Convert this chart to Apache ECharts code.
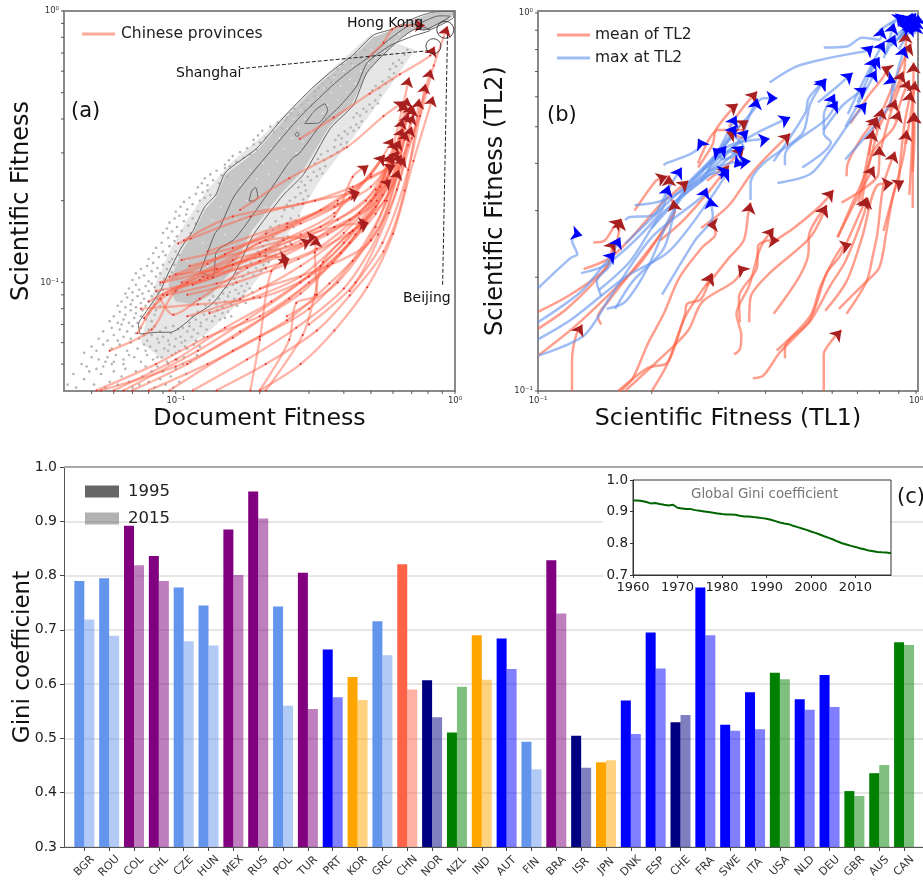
<!DOCTYPE html>
<html>
<head>
<meta charset="utf-8">
<style>html,body{margin:0;padding:0;background:#fff}#c{width:923px;height:880px}</style>
<script src="https://cdn.jsdelivr.net/npm/echarts@6/dist/echarts.min.js"></script>
</head>
<body>
<div id="c"></div>
<script>
// ---------- Panel (c): Gini bars ----------
const countries = ['BGR','ROU','COL','CHL','CZE','HUN','MEX','RUS','POL','TUR','PRT','KOR','GRC','CHN','NOR','NZL','IND','AUT','FIN','BRA','ISR','JPN','DNK','ESP','CHE','FRA','SWE','ITA','USA','NLD','DEU','GBR','AUS','CAN'];
const gini1995 = [.790,.795,.892,.836,.778,.745,.885,.955,.743,.805,.664,.613,.716,.821,.607,.511,.690,.684,.494,.828,.505,.456,.570,.695,.530,.778,.525,.585,.621,.572,.617,.403,.436,.677];
const gini2015 = [.719,.689,.819,.790,.679,.671,.801,.905,.560,.554,.576,.571,.653,.590,.539,.595,.608,.628,.443,.730,.446,.460,.508,.629,.543,.690,.514,.517,.609,.553,.558,.394,.451,.672];
const barColors = ['cornflowerblue','cornflowerblue','purple','purple','cornflowerblue','cornflowerblue','purple','purple','cornflowerblue','purple','blue','orange','cornflowerblue','tomato','navy','green','orange','blue','cornflowerblue','purple','navy','orange','blue','blue','navy','blue','blue','blue','green','blue','blue','green','green','green'];
const globalYears = [1960,1961,1962,1963,1964,1965,1966,1967,1968,1969,1970,1971,1972,1973,1974,1975,1976,1977,1978,1979,1980,1981,1982,1983,1984,1985,1986,1987,1988,1989,1990,1991,1992,1993,1994,1995,1996,1997,1998,1999,2000,2001,2002,2003,2004,2005,2006,2007,2008,2009,2010,2011,2012,2013,2014,2015,2016,2017,2018];
const globalGini = [.9356,.9356,.9335,.9303,.9261,.9271,.924,.9218,.9197,.9218,.9123,.9102,.9081,.9081,.9049,.9028,.9007,.8986,.8965,.8944,.8923,.8912,.8912,.8901,.887,.8849,.8849,.8828,.8817,.8796,.8775,.8743,.8701,.8658,.8627,.8606,.8553,.8511,.8468,.8426,.8373,.8331,.8278,.8225,.8173,.812,.8056,.8004,.7961,.7919,.7887,.7845,.7813,.7771,.775,.7729,.7718,.7708,.7687];

// ---------- Panel (a): provinces ----------
const provinces = [
[[.49,.675],[.555,.765],[.595,.855],[.67,.885],[.78,.885]],
[[.278,.338],[.368,.405],[.495,.496],[.635,.585],[.815,.685],[.845,.74]],
[[.17,.185],[.255,.242],[.41,.315],[.555,.41],[.66,.465]],
[[.11,.09],[.165,.1],[.275,.122],[.43,.155],[.52,.19],[.61,.25],[.68,.32],[.75,.41],[.79,.5],[.84,.63],[.94,.88]],
[[.054,.04],[.1,.049],[.16,.0625],[.255,.087],[.365,.118],[.465,.161],[.585,.235],[.66,.335],[.71,.415]],
[[.07,.04],[.11,.05],[.17,.066],[.28,.091],[.39,.128],[.52,.179],[.62,.25],[.7,.375]],
[[.095,.04],[.16,.056],[.25,.0725],[.355,.099],[.5,.143],[.62,.22],[.71,.445]],
[[.14,.04],[.21,.05],[.32,.0665],[.42,.0895],[.555,.13],[.66,.218],[.745,.475]],
[[.2,.04],[.28,.05],[.37,.0665],[.485,.096],[.6,.151],[.71,.28],[.835,.485]],
[[.185,.04],[.2,.0615],[.22,.11],[.255,.122]],
[[.2,.04],[.255,.0615],[.27,.084],[.32,.09],[.315,.129],[.32,.147]],
[[.21,.04],[.285,.064],[.315,.09],[.337,.119],[.43,.155],[.49,.166]],
[[.077,.074],[.093,.09],[.16,.121],[.28,.139],[.42,.17],[.59,.24]],
[[.073,.065],[.09,.09],[.122,.102],[.21,.132],[.37,.16],[.49,.166]],
[[.058,.056],[.082,.067],[.1,.093],[.136,.104],[.243,.143],[.37,.18],[.56,.295]],
[[.088,.087],[.098,.076],[.122,.087],[.18,.113],[.305,.143]],
[[.085,.093],[.13,.104],[.21,.143],[.32,.147]],
[[.1,.107],[.14,.112],[.21,.125],[.255,.122]],
[[.102,.139],[.113,.145],[.185,.175],[.315,.2],[.455,.215]],
[[.107,.143],[.16,.175],[.285,.195],[.43,.225],[.61,.27]],
[[.132,.077],[.19,.088],[.28,.105],[.42,.152],[.56,.2],[.66,.29]],
[[.093,.09],[.14,.099],[.21,.113],[.32,.133],[.455,.18],[.645,.295]],
[[.088,.1],[.13,.117],[.21,.151],[.37,.19],[.5,.225],[.63,.305]],
[[.105,.121],[.16,.134],[.28,.165],[.42,.205],[.56,.295]],
[[.125,.105],[.245,.126],[.37,.16],[.525,.2],[.635,.335]],
[[.11,.075],[.17,.087],[.28,.115],[.4,.152],[.54,.225],[.685,.57]],
[[.112,.115],[.28,.15],[.37,.175],[.43,.245],[.49,.27]],
[[.13,.13],[.25,.165],[.38,.195],[.455,.215]],
[[.2,.095],[.35,.115],[.5,.143],[.62,.25],[.675,.48]],
[[.25,.075],[.38,.1],[.52,.16],[.63,.3],[.66,.46]],
[[.3,.07],[.44,.1],[.58,.18],[.7,.34],[.82,.61]],
[[.42,.093],[.55,.14],[.68,.26],[.785,.54]],
[[.115,.098],[.2,.12],[.35,.15],[.5,.2],[.595,.295]],
[[.105,.1],[.2,.14],[.33,.185],[.5,.245],[.61,.27]],
[[.052,.04],[.085,.05],[.13,.063],[.2,.075],[.3,.1],[.44,.15],[.57,.24],[.68,.42]],
[[.06,.04],[.1,.052],[.15,.068],[.22,.085],[.33,.115],[.47,.17],[.6,.28],[.7,.45]],
[[.065,.04],[.12,.056],[.18,.073],[.28,.1],[.4,.14],[.52,.21],[.65,.37]],
[[.08,.04],[.13,.05],[.2,.063],[.3,.08],[.43,.12],[.57,.2],[.67,.36]],
[[.115,.04],[.18,.052],[.27,.068],[.4,.095],[.53,.15],[.63,.26]],
[[.09,.1],[.16,.116],[.26,.138],[.38,.17],[.52,.22],[.6,.3]],
[[.08,.085],[.11,.1],[.2,.127],[.33,.16],[.48,.2],[.62,.33]],
[[.095,.105],[.15,.127],[.25,.16],[.38,.2],[.5,.25],[.6,.34]],
[[.075,.08],[.12,.083],[.2,.088],[.3,.105],[.42,.14],[.55,.21],[.65,.4]]
];
const contourOuter = [[.0745,.0645],[.0735,.07],[.079,.079],[.088,.093],[.094,.108],[.105,.135],[.115,.154],[.127,.19],[.139,.21],[.151,.255],[.195,.312],[.243,.405],[.302,.51],[.358,.595],[.432,.69],[.51,.815],[.59,.855],[.73,.95],[.835,.99],[.99,.995],[.99,.95],[.93,.91],[.81,.855],[.73,.86],[.62,.77],[.485,.595],[.432,.45],[.358,.37],[.287,.25],[.243,.21],[.19,.15],[.161,.106],[.136,.084],[.118,.076],[.096,.0655],[.086,.0655],[.0745,.0645]];
const contourInner = [[.122,.109],[.127,.121],[.138,.151],[.144,.16],[.162,.208],[.21,.29],[.28,.41],[.37,.54],[.432,.615],[.495,.68],[.585,.79],[.71,.895],[.815,.85],[.71,.81],[.585,.745],[.485,.645],[.445,.53],[.39,.45],[.33,.38],[.278,.3],[.26,.285],[.212,.21],[.163,.145],[.14,.13],[.136,.105],[.122,.109]];
const contourLoops = [
[[.29,.385],[.315,.43],[.342,.455],[.35,.43],[.325,.387],[.29,.385]],
[[.183,.2],[.187,.217],[.193,.224],[.197,.206],[.19,.199],[.183,.2]],
[[.267,.35],[.272,.358],[.277,.35],[.272,.345],[.267,.35]],
[[.725,.86],[.765,.91],[.88,.96],[.96,.955],[.855,.89],[.775,.85],[.725,.86]]
];
// Sparser part of the grey cloud around the contour, as a pale filled region
const cloudHalo = [[.075,.06],[.08,.08],[.085,.1],[.095,.13],[.11,.17],[.13,.22],[.16,.28],[.2,.34],[.26,.44],[.33,.56],[.42,.7],[.5,.82],[.72,.72],[.6,.55],[.5,.42],[.42,.33],[.33,.24],[.27,.17],[.22,.12],[.17,.085],[.13,.065],[.09,.052]];
// Near-solid centre of the grey cloud, drawn as a filled region inside the contour
const cloudCore = [[.094,.098],[.105,.13],[.115,.15],[.127,.185],[.139,.205],[.151,.25],[.195,.305],[.243,.395],[.302,.5],[.358,.585],[.432,.68],[.51,.8],[.59,.85],[.73,.94],[.835,.985],[.99,.99],[.98,.955],[.93,.915],[.81,.86],[.73,.865],[.62,.78],[.485,.6],[.428,.455],[.355,.375],[.283,.255],[.24,.215],[.187,.155],[.158,.11],[.134,.09],[.115,.083],[.1,.085]];
// Gaps between dots inside the core
const coreGaps = [[.11,.12],[.118,.105],[.125,.14],[.13,.115],[.135,.17],[.14,.125],[.145,.19],[.15,.15],[.155,.14],[.16,.2],[.165,.17],[.17,.23],[.175,.16],[.18,.2],[.185,.26],[.19,.18],[.195,.24],[.2,.21],[.205,.275],[.21,.19],[.215,.25],[.22,.31],[.225,.22],[.23,.28],[.235,.34],[.24,.25],[.245,.31],[.25,.37],[.255,.28],[.26,.34],[.265,.4],[.27,.3],[.275,.37],[.28,.43],[.285,.33],[.29,.4],[.3,.46],[.305,.36],[.31,.42],[.32,.39],[.325,.48],[.335,.42],[.34,.52],[.35,.45],[.36,.5],[.37,.57],[.38,.47],[.39,.53],[.4,.6],[.41,.5],[.42,.56],[.43,.63],[.44,.54],[.46,.6],[.47,.68],[.49,.64],[.5,.72],[.52,.67],[.54,.74],[.56,.71],[.58,.77],[.6,.73],[.63,.82],[.66,.8],[.7,.87],[.75,.89],[.8,.93],[.86,.95],[.92,.96]];
// Dots outside the core: approximate positions read by eye, not every dot in the reference
const cloudDots = [
[.041,.042],[.044,.041],[.043,.046],[.047,.044],[.046,.05],[.049,.047],[.051,.042],[.052,.048],[.048,.049],[.054,.046],[.056,.041],[.058,.043],[.055,.049],[.06,.047],[.062,.042],[.064,.045],[.059,.05],[.066,.048],[.068,.043],[.07,.041],[.072,.047],[.074,.042],[.065,.05],[.076,.045],[.078,.049],[.08,.043],[.082,.047],[.084,.041],[.086,.049],[.088,.044],[.09,.047],[.092,.042],[.094,.05],[.096,.045],[.098,.041],[.1,.048],[.103,.043],[.106,.05],[.109,.046],[.05,.053],
[.047,.055],[.05,.058],[.053,.052],[.052,.056],[.055,.059],[.057,.053],[.059,.057],[.056,.051],[.061,.054],[.063,.059],[.065,.052],[.067,.056],[.069,.06],[.071,.053],[.073,.057],[.075,.051],[.077,.059],[.079,.054],[.081,.058],[.083,.052],[.085,.056],[.087,.06],[.089,.053],[.091,.057],[.093,.051],[.095,.059],[.097,.054],[.099,.058],[.101,.052],[.103,.056],[.105,.06],[.107,.053],[.11,.057],[.113,.051],[.116,.059],[.119,.054],[.122,.058],[.06,.051],[.068,.054],[.078,.056],[.086,.053],[.094,.056],[.1,.055],[.108,.058],
[.053,.062],[.055,.066],[.057,.061],[.059,.068],[.06,.064],[.062,.061],[.063,.067],[.065,.063],[.064,.07],[.067,.066],[.069,.062],[.07,.069],[.072,.065],[.074,.062],[.075,.068],[.077,.064],[.079,.061],[.08,.067],[.082,.064],[.084,.069],[.086,.062],[.088,.066],[.09,.063],[.092,.068],[.094,.061],[.096,.065],[.098,.069],[.1,.062],[.102,.067],[.104,.063],[.106,.068],[.108,.061],[.11,.066],[.112,.069],[.114,.063],[.116,.067],[.118,.061],[.12,.065],[.123,.069],[.126,.063],[.129,.067],
[.058,.072],[.06,.075],[.062,.071],[.063,.078],[.065,.073],[.066,.076],[.068,.071],[.069,.079],[.071,.074],[.072,.077],[.073,.071],[.075,.075],[.076,.079],[.078,.073],[.08,.077],[.082,.072],[.084,.076],[.085,.079],[.112,.071],[.115,.075],[.118,.073],[.12,.078],[.123,.071],[.126,.076],[.129,.073],[.132,.078],[.135,.072],[.138,.075],[.141,.079],[.144,.073],[.147,.077],[.15,.074],[.154,.078],[.158,.075],
[.062,.082],[.064,.085],[.066,.081],[.067,.088],[.069,.083],[.07,.086],[.072,.081],[.073,.089],[.075,.084],[.077,.087],[.078,.082],[.08,.085],[.082,.089],[.084,.083],[.086,.087],[.088,.082],[.128,.082],[.132,.086],[.136,.089],[.14,.083],[.143,.087],[.147,.081],[.15,.085],[.154,.089],[.158,.083],[.162,.087],[.166,.082],[.17,.086],[.174,.089],[.178,.084],
[.066,.091],[.068,.095],[.07,.092],[.072,.098],[.074,.094],[.076,.091],[.078,.097],[.08,.093],[.082,.099],[.084,.096],[.086,.092],[.088,.098],[.09,.094],[.148,.091],[.152,.096],[.156,.092],[.16,.098],[.164,.094],[.168,.091],[.172,.097],[.176,.093],[.18,.099],[.184,.095],[.188,.092],
[.07,.102],[.072,.108],[.074,.104],[.075,.112],[.077,.106],[.079,.115],[.08,.101],[.082,.11],[.083,.118],[.085,.105],[.086,.113],[.088,.108],[.09,.116],[.091,.103],[.093,.112],[.095,.119],[.097,.109],[.099,.116],[.162,.103],[.166,.108],[.17,.112],[.174,.105],[.178,.115],[.182,.109],[.186,.118],[.19,.106],[.194,.113],[.198,.119],[.202,.11],[.206,.116],[.21,.112],[.215,.119],
[.08,.122],[.083,.128],[.085,.134],[.087,.124],[.089,.14],[.09,.13],[.092,.126],[.094,.146],[.095,.136],[.097,.122],[.099,.142],[.1,.13],[.101,.148],[.103,.126],[.192,.123],[.197,.13],[.2,.126],[.205,.136],[.21,.128],[.214,.142],[.218,.133],[.223,.147],[.228,.125],[.232,.138],[.237,.131],[.242,.145],[.247,.136],[.252,.148],[.257,.14],
[.09,.152],[.093,.158],[.095,.166],[.097,.154],[.099,.172],[.101,.16],[.103,.176],[.105,.155],[.107,.168],[.109,.178],[.111,.162],[.113,.152],[.115,.172],[.118,.165],[.212,.153],[.218,.16],[.223,.156],[.228,.168],[.234,.162],[.24,.175],[.246,.156],[.252,.165],[.258,.172],[.264,.16],[.27,.168],[.276,.176],
[.1,.182],[.104,.19],[.107,.198],[.11,.186],[.112,.205],[.115,.194],[.118,.212],[.12,.183],[.122,.2],[.125,.215],[.127,.205],[.13,.218],[.133,.21],[.245,.185],[.25,.193],[.256,.2],[.262,.188],[.268,.206],[.274,.195],[.28,.213],[.286,.202],[.292,.218],[.298,.208],
[.12,.224],[.124,.232],[.127,.242],[.13,.228],[.133,.25],[.136,.238],[.14,.258],[.143,.232],[.146,.248],[.15,.264],[.153,.245],[.156,.268],[.275,.224],[.282,.235],[.29,.228],[.297,.245],[.305,.238],[.312,.255],[.32,.246],[.328,.262],[.335,.252],[.343,.268],
[.15,.272],[.155,.282],[.16,.292],[.165,.278],[.17,.302],[.175,.288],[.18,.312],[.185,.296],[.19,.322],[.195,.308],[.2,.328],[.315,.274],[.323,.285],[.332,.296],[.34,.282],[.35,.305],[.36,.292],[.37,.315],[.38,.302],[.39,.322],[.4,.312],[.41,.328],
[.19,.335],[.197,.348],[.204,.362],[.21,.342],[.218,.375],[.225,.358],[.232,.388],[.24,.37],[.247,.395],[.373,.335],[.383,.348],[.393,.34],[.403,.36],[.413,.352],[.423,.372],[.433,.362],[.443,.382],[.453,.372],[.463,.392],
[.25,.405],[.258,.42],[.266,.436],[.274,.415],[.282,.45],[.29,.432],[.298,.468],[.306,.448],[.313,.485],[.433,.405],[.445,.42],[.457,.412],[.47,.436],[.482,.426],[.494,.452],[.506,.44],[.518,.468],[.53,.456],[.54,.49],
[.315,.505],[.325,.522],[.335,.54],[.345,.52],[.352,.565],[.36,.545],[.37,.58],[.505,.51],[.52,.53],[.535,.52],[.55,.55],[.565,.54],[.58,.57],[.595,.56],[.605,.59],
[.38,.61],[.395,.635],[.41,.66],[.425,.64],[.44,.69],[.46,.67],[.475,.72],[.585,.61],[.6,.64],[.615,.625],[.63,.66],[.645,.645],[.66,.69],[.675,.72]
];

// ---------- Panel (b): trajectories ----------
const meanTL2 = [
[[.123,.1],[.123,.12],[.126,.14],[.131,.15]],
[[.1,.124],[.125,.148],[.163,.19],[.188,.22],[.225,.288],[.23,.3],[.222,.34],[.222,.372]],
[[.1,.162],[.122,.18],[.152,.212],[.158,.245],[.16,.25]],
[[.1,.146],[.12,.166],[.148,.206],[.16,.24],[.166,.285]],
[[.14,.247],[.15,.25],[.16,.275],[.166,.285]],
[[.132,.21],[.155,.225],[.18,.26],[.21,.31],[.25,.36]],
[[.18,.3],[.205,.36],[.212,.365],[.22,.37]],
[[.147,.15],[.144,.157],[.153,.172],[.187,.222],[.223,.28],[.23,.3],[.228,.32]],
[[.21,.25],[.24,.28],[.285,.34],[.32,.395]],
[[.27,.27],[.32,.31],[.37,.38],[.465,.48]],
[[.165,.1],[.178,.108],[.195,.133],[.215,.16],[.237,.2],[.272,.24],[.295,.26],[.29,.275],[.28,.275]],
[[.163,.1],[.195,.115],[.218,.118],[.226,.125],[.245,.16],[.248,.17],[.27,.175],[.288,.205]],
[[.17,.1],[.222,.128],[.25,.145],[.272,.172],[.33,.195],[.345,.21],[.338,.215]],
[[.2,.1],[.22,.118],[.245,.157],[.285,.198],[.29,.204]],
[[.33,.125],[.342,.129],[.345,.14],[.335,.16],[.362,.19],[.382,.23],[.395,.248],[.42,.27]],
[[.362,.152],[.365,.177],[.41,.205],[.525,.255],[.58,.31]],
[[.342,.152],[.34,.177],[.38,.213],[.382,.242],[.41,.25],[.435,.25]],
[[.42,.16],[.493,.202],[.52,.235],[.52,.255],[.58,.31]],
[[.41,.245],[.475,.27],[.56,.31],[.605,.34]],
[[.37,.108],[.395,.11],[.435,.126],[.525,.155],[.58,.205],[.63,.228],[.72,.305],[.74,.325]],
[[.428,.128],[.525,.158],[.56,.19],[.635,.24],[.675,.245]],
[[.45,.122],[.45,.13],[.525,.153],[.593,.19],[.65,.22],[.725,.29],[.745,.325]],
[[.575,.163],[.655,.195],[.72,.255],[.79,.35],[.87,.355]],
[[.625,.165],[.72,.19],[.795,.21],[.82,.235],[.83,.255],[.885,.35],[.93,.36]],
[[.655,.16],[.74,.195],[.77,.23],[.79,.26],[.82,.35],[.88,.43]],
[[.62,.255],[.7,.325],[.775,.393]],
[[.57,.1],[.57,.125],[.595,.135],[.635,.145]],
[[.82,.265],[.855,.31],[.925,.415],[.945,.49]],
[[.98,.305],[.98,.395],[.985,.545]],
[[.635,.315],[.72,.34],[.795,.375],[.8,.445]],
[[.62,.255],[.675,.31],[.745,.39],[.815,.56]],
[[.67,.51],[.745,.6],[.835,.71],[.81,.72]],
[[.655,.37],[.66,.4],[.72,.47],[.79,.53]],
[[.96,.33],[.98,.5],[.985,.74]],
[[.9,.36],[.93,.5],[.97,.62]],
[[.72,.32],[.77,.43],[.87,.495],[.905,.55]],
[[.705,.315],[.73,.375],[.77,.49]],
[[.8,.42],[.85,.53],[.885,.59]],
[[.82,.56],[.9,.7],[.97,.83]],
[[.85,.55],[.93,.7],[.94,.89]],
[[.8,.5],[.88,.62],[.925,.7]],
[[.88,.52],[.92,.6],[.96,.665]],
[[.94,.45],[.97,.55],[.995,.66]],
[[.98,.38],[.99,.47],[.99,.545]],
[[.75,.42],[.77,.49],[.79,.53]],
[[.265,.39],[.29,.45],[.295,.49],[.33,.565],[.338,.575]],
[[.32,.5],[.35,.565],[.38,.62]],
[[.265,.4],[.3,.49],[.345,.49],[.35,.465],[.315,.485]],
[[.28,.36],[.32,.4],[.35,.44]],
[[.32,.46],[.34,.5],[.36,.52]],
[[.28,.19],[.32,.225],[.35,.25],[.36,.295],[.365,.315]]
];
const maxTL2 = [
[[.1,.187],[.122,.225],[.127,.23],[.123,.25],[.127,.26],[.131,.258]],
[[.1,.152],[.13,.183],[.149,.215],[.16,.233]],
[[.1,.137],[.123,.155],[.17,.2],[.222,.234],[.29,.33],[.32,.385]],
[[.1,.124],[.132,.14],[.155,.177],[.2,.255],[.275,.33],[.28,.345]],
[[.147,.178],[.143,.195],[.155,.215],[.16,.24],[.165,.255]],
[[.13,.205],[.153,.217],[.21,.295],[.222,.35]],
[[.17,.283],[.174,.288],[.202,.292],[.22,.34],[.24,.39]],
[[.215,.395],[.218,.4],[.255,.425],[.27,.45],[.265,.465]],
[[.213,.18],[.26,.25],[.29,.29],[.285,.325]],
[[.152,.165],[.17,.172],[.195,.212],[.232,.31],[.28,.37],[.32,.385]],
[[.16,.165],[.178,.195],[.215,.238],[.237,.325],[.3,.42],[.315,.445]],
[[.145,.185],[.175,.22],[.213,.295],[.272,.36],[.335,.43],[.35,.445]],
[[.18,.31],[.215,.32],[.275,.37],[.36,.49]],
[[.17,.245],[.235,.335],[.32,.445],[.41,.465]],
[[.2,.27],[.27,.37],[.32,.4],[.365,.405]],
[[.24,.34],[.295,.41],[.37,.475],[.465,.53]],
[[.365,.32],[.365,.355],[.395,.4],[.5,.48],[.525,.575],[.575,.67]],
[[.42,.405],[.51,.545],[.52,.595],[.58,.67]],
[[.45,.395],[.45,.42],[.58,.525],[.62,.585]],
[[.5,.39],[.595,.455],[.57,.48],[.57,.535],[.61,.61]],
[[.43,.355],[.525,.375],[.59,.43],[.665,.51],[.74,.58]],
[[.41,.655],[.48,.72],[.57,.755],[.695,.785],[.745,.795],[.77,.82]],
[[.57,.81],[.655,.815],[.72,.86],[.8,.85],[.815,.915]],
[[.65,.41],[.85,.57],[.87,.66],[.885,.655]],
[[.57,.49],[.64,.57],[.74,.635]],
[[.55,.58],[.62,.64],[.68,.695]],
[[.66,.54],[.72,.65],[.78,.76]],
[[.7,.58],[.75,.68],[.8,.765]],
[[.65,.5],[.72,.6],[.785,.705]],
[[.87,.62],[.9,.72],[.935,.815]],
[[.75,.68],[.78,.76],[.825,.84]],
[[.83,.78],[.875,.94]],
[[.82,.76],[.86,.83],[.88,.875]],
[[.3,.425],[.34,.5],[.375,.56],[.38,.595]],
[[.35,.48],[.37,.56],[.395,.595],[.43,.595]],
[[.28,.38],[.31,.46],[.335,.535]],
[[.27,.38],[.31,.45],[.335,.505]],
[[.3,.42],[.33,.47],[.35,.44],[.31,.41],[.29,.44]],
[[.27,.36],[.32,.43],[.345,.41],[.33,.39]],
[[.9,.85],[.95,.92],[.98,.985]],
[[.88,.84],[.93,.9],[.96,.97]],
[[.92,.86],[.97,.93],[1,.98]],
[[.86,.82],[.92,.88],[.97,.95]],
[[.94,.9],[.97,.94],[.99,.95]],
[[1.01,.9],[1.005,.94],[1.005,.965]],
[[.9,.8],[.95,.88],[.985,.93]],
[[.86,.85],[.92,.9],[.97,.93]],
[[.99,.88],[1,.91],[1,.94]],
[[.85,.93],[.9,.96],[.95,.98]],
[[.8,.9],[.87,.95],[.93,.985]],
[[.92,.9],[.96,.96],[.98,1]],
[[.94,.92],[.98,.97],[1,1]],
[[1.01,.95],[1.012,.97],[1.01,.99]]
];

// ---------- Annotations in panel (a) ----------
const circlesA = [[.923,.853],[.837,.742]];
const shanghaiLeader = [[.17,.613],[.815,.715]];
const beijingLeader = [[.903,.098],[.94,.825]];
const tickValuesA = [.05,.06,.07,.08,.09,.1,.2,.3,.4,.5,.6,.7,.8,.9,1];
const tickValuesB = [.1,.2,.3,.4,.5,.6,.7,.8,.9,1];
const labels = {a:'(a)',b:'(b)',c:'(c)',hk:'Hong Kong',sh:'Shanghai',bj:'Beijing',inset:'Global Gini coefficient'};

const FONT = '"DejaVu Sans"';
const RED='#ff6347', BLUE='#6495ed', ARROW_RED='#a81f1f', ARROW_BLUE='#0000ff';

function logLabel(v){
  const e = Math.log10(v), r = Math.round(e);
  if (Math.abs(e-r) > 1e-6) return '';
  return r === 0 ? '10\u2070' : '10\u207B\u00B9';
}
function logAxis(gridIndex,min,max,name,gap,isX){
  return {type:'log',logBase:10,gridIndex,min,max,name,nameLocation:'middle',nameGap:gap,
    nameTextStyle:{fontFamily:FONT,fontSize:isX?23.7:24,color:'#111'},
    axisLine:{show:false},splitLine:{show:false},minorTick:{show:false},
    axisTick:{show:false},
    axisLabel:{fontFamily:FONT,fontSize:8.5,color:'#333',margin:5,showMinLabel:true,showMaxLabel:true,formatter:logLabel,hideOverlap:false}};
}
function traj(name,x,y,pts,color,opacity,width){
  return {type:'line',name,xAxisIndex:x,yAxisIndex:y,data:pts,smooth:.3,showSymbol:false,symbol:'none',
    silent:true,lineStyle:{color,width,opacity},itemStyle:{color},z:3};
}
function arrows(x,y,list,color,size){
  const ends = list.map(t=>t[t.length-1]);
  const rot = list.map(t=>{
    const a=t[t.length-2], b=t[t.length-1];
    return Math.atan2(Math.log10(b[1]/a[1]),Math.log10(b[0]/a[0]))*180/Math.PI-90;
  });
  return {type:'scatter',xAxisIndex:x,yAxisIndex:y,data:ends,symbol:'arrow',symbolSize:size,clip:false,silent:true,
    symbolRotate:(v,p)=>rot[p.dataIndex],itemStyle:{color,opacity:1},z:6};
}
function ticks(x,y,vals,other,vertical){
  return {type:'custom',xAxisIndex:x,yAxisIndex:y,silent:true,clip:false,z:1,
    data:vals.map(v=>vertical?[other,v]:[v,other]),
    renderItem:(p,api)=>{
      const c=api.coord([api.value(0),api.value(1)]);
      const s=vertical?{x1:c[0],y1:c[1],x2:c[0]-3,y2:c[1]}:{x1:c[0],y1:c[1],x2:c[0],y2:c[1]+3};
      return {type:'line',shape:s,style:{stroke:'#555',lineWidth:1}};
    }};
}
function regionFill(x,y,pts,fill,z){
  return {type:'custom',xAxisIndex:x,yAxisIndex:y,silent:true,z,data:pts,encode:{x:0,y:1},
    renderItem:(p,api)=>p.dataIndex!==0?null:{type:'polygon',shape:{points:pts.map(q=>api.coord(q))},style:{fill}}};
}
function contour(pts){
  return {type:'line',xAxisIndex:0,yAxisIndex:0,data:pts,symbol:'none',silent:true,smooth:.2,
    lineStyle:{color:'#5f5f5f',width:1},z:2};
}

const series = [];
series.push(regionFill(0,0,cloudHalo,'#e6e6e6',1));
series.push({type:'scatter',xAxisIndex:0,yAxisIndex:0,data:cloudDots,symbolSize:2.6,silent:true,large:false,progressive:0,itemStyle:{color:'#b5b5b5',opacity:1},z:1});
series.push(regionFill(0,0,cloudCore,'#c6c6c6',1));
series.push({type:'scatter',xAxisIndex:0,yAxisIndex:0,data:coreGaps,symbolSize:1.6,silent:true,itemStyle:{color:'#f0f0f0',opacity:1},z:1});
[contourOuter,contourInner].concat(contourLoops).forEach(c=>series.push(contour(c)));
provinces.forEach(p=>series.push(traj('Chinese provinces',0,0,p,RED,.48,2.3)));
series.push({type:'scatter',xAxisIndex:0,yAxisIndex:0,data:provinces.flatMap(p=>p.slice(0,-1)),symbolSize:2,silent:true,itemStyle:{color:'#e22b2b',opacity:1},z:4});
series.push(arrows(0,0,provinces,ARROW_RED,10));
series.push({type:'line',xAxisIndex:0,yAxisIndex:0,data:shanghaiLeader,symbol:'none',silent:true,lineStyle:{color:'#222',width:1,type:[4,2]},z:5});
series.push({type:'line',xAxisIndex:0,yAxisIndex:0,data:beijingLeader,symbol:'none',silent:true,lineStyle:{color:'#222',width:1,type:[4,2]},z:5});
series.push({type:'scatter',xAxisIndex:0,yAxisIndex:0,data:circlesA,symbol:'circle',symbolSize:(v,p)=>p.dataIndex===0?17:15,silent:true,clip:false,itemStyle:{color:'rgba(0,0,0,0)',borderColor:'#222',borderWidth:1},z:7});
series.push(ticks(0,0,tickValuesA,.0398,false));
series.push(ticks(0,0,tickValuesA,.0398,true));

meanTL2.forEach(p=>series.push(traj('mean of TL2',1,1,p,RED,.62,2.5)));
maxTL2.forEach(p=>series.push(traj('max at TL2',1,1,p,BLUE,.62,2.5)));
series.push(arrows(1,1,meanTL2,ARROW_RED,11));
series.push(arrows(1,1,maxTL2,ARROW_BLUE,11));
series.push(ticks(1,1,tickValuesB,.1,false));
series.push(ticks(1,1,tickValuesB,.1,true));

series.push({type:'bar',name:'1995',xAxisIndex:3,yAxisIndex:3,barWidth:10,barGap:0,z:2,silent:true,
  itemStyle:{color:'#666666'},
  data:gini1995.map((v,i)=>({value:v,itemStyle:{color:barColors[i]}}))});
series.push({type:'bar',name:'2015',xAxisIndex:3,yAxisIndex:3,barWidth:10,barGap:0,z:2,silent:true,
  itemStyle:{color:'#666666',opacity:.5},
  data:gini2015.map((v,i)=>({value:v,itemStyle:{color:barColors[i],opacity:.5}}))});
series.push({type:'line',xAxisIndex:4,yAxisIndex:4,data:globalYears.map((y,i)=>[y,globalGini[i]]),symbol:'none',silent:true,
  lineStyle:{color:'#006400',width:2},z:8});

const txt = (text,x,y,size,color)=>({type:'text',left:x,top:y,z:20,
  style:{text,fontFamily:FONT,fontSize:size,fill:color||'#111',verticalAlign:'middle'}});
const noBounds = {outerBoundsMode:'none'};

const option = {
  animation:false,backgroundColor:'#fff',textStyle:{fontFamily:FONT},
  grid:[
    {left:64,top:11,width:391,height:380,show:true,backgroundColor:'#fff',borderColor:'#8a8a8a',borderWidth:2,...noBounds},
    {left:538,top:11,width:380,height:380,show:true,backgroundColor:'#fff',borderColor:'#8a8a8a',borderWidth:2,...noBounds},
    {left:64,top:467,width:859,height:380,...noBounds},
    {left:71.9,top:467,width:844.6,height:380,...noBounds},
    {left:633,top:480,width:258,height:95,show:true,backgroundColor:'#fff',borderColor:'#333',borderWidth:1,z:3,...noBounds}
  ],
  xAxis:[
    logAxis(0,.0398,1,'Document Fitness',16,true),
    logAxis(1,.1,1.012,'Scientific Fitness (TL1)',16,true),
    {type:'value',gridIndex:2,min:0,max:1,position:'bottom',axisLabel:{show:false},axisTick:{show:false},splitLine:{show:false},axisLine:{show:true,onZero:false,lineStyle:{color:'#555',width:1}}},
    {type:'category',gridIndex:3,data:countries,axisLine:{show:false},axisTick:{show:true,alignWithLabel:true,length:4,lineStyle:{color:'#444'}},
      axisLabel:{interval:0,rotate:45,align:'center',verticalAlign:'middle',fontFamily:FONT,fontSize:11,color:'#333',margin:19}},
    {type:'value',gridIndex:4,min:1960,max:2018,interval:10,z:4,axisLine:{show:true,onZero:false,lineStyle:{color:'#333'}},axisTick:{show:true,length:3,lineStyle:{color:'#333'}},splitLine:{show:false},
      axisLabel:{fontFamily:FONT,fontSize:13,color:'#222',margin:6,showMaxLabel:false,hideOverlap:false,formatter:v=>String(v)}}
  ],
  yAxis:[
    logAxis(0,.0398,1,'Scientific Fitness',30,false),
    logAxis(1,.1,1.012,'Scientific Fitness (TL2)',30,false),
    {type:'value',gridIndex:2,min:.3,max:1,interval:.1,axisLine:{show:true,onZero:false,lineStyle:{color:'#555',width:1}},axisTick:{show:true,length:4,lineStyle:{color:'#444'}},
      splitLine:{show:true,lineStyle:{color:'#dedede',width:1.5}},
      name:'Gini coefficient',nameLocation:'middle',nameGap:29,nameMoveOverlap:false,nameTextStyle:{fontFamily:FONT,fontSize:23,color:'#111'},
      axisLabel:{fontFamily:FONT,fontSize:14,color:'#222',margin:7,formatter:v=>v.toFixed(1)}},
    {type:'value',gridIndex:3,min:.3,max:1,axisLine:{show:false},axisTick:{show:false},axisLabel:{show:false},splitLine:{show:false}},
    {type:'value',gridIndex:4,min:.7,max:1,interval:.1,z:4,axisLine:{show:true,onZero:false,lineStyle:{color:'#333'}},axisTick:{show:true,length:3,lineStyle:{color:'#333'}},splitLine:{show:false},
      axisLabel:{fontFamily:FONT,fontSize:13.5,color:'#222',margin:5,formatter:v=>v.toFixed(1)}}
  ],
  legend:[
    {data:['Chinese provinces'],left:77,top:21,orient:'vertical',icon:'rect',itemWidth:33,itemHeight:3,itemGap:7,itemStyle:{opacity:.55},textStyle:{fontFamily:FONT,fontSize:15.5,color:'#222',padding:[0,0,0,1]},selectedMode:false},
    {data:['mean of TL2','max at TL2'],left:552,top:22,orient:'vertical',icon:'rect',itemWidth:33,itemHeight:3,itemGap:7,itemStyle:{opacity:.62},textStyle:{fontFamily:FONT,fontSize:15.5,color:'#222',padding:[0,0,0,0]},selectedMode:false},
    {data:['1995','2015'],left:80,top:478,orient:'vertical',icon:'rect',itemWidth:34,itemHeight:12,itemGap:10,textStyle:{fontFamily:FONT,fontSize:16.5,color:'#222',padding:[0,0,0,4]},selectedMode:false}
  ],
  graphic:{elements:[
    {type:'rect',left:603,top:470,z:1,shape:{width:288,height:115},style:{fill:'#fff'},silent:true},
    {type:'line',z:1,shape:{x1:64,y1:467,x2:923,y2:467},style:{stroke:'#a8a8a8',lineWidth:2},silent:true},
    txt(labels.a,71,101,21),
    txt(labels.b,547,105,21),
    txt(labels.c,897,487,21),
    txt(labels.hk,347,16,14),
    txt(labels.sh,176,66,14),
    txt(labels.bj,403,291,14),
    txt(labels.inset,691,488,13.4,'#777')
  ]},
  series
};
const chart = echarts.init(document.getElementById('c'),null,{renderer:'canvas'});
chart.setOption(option);
</script>
</body>
</html>
